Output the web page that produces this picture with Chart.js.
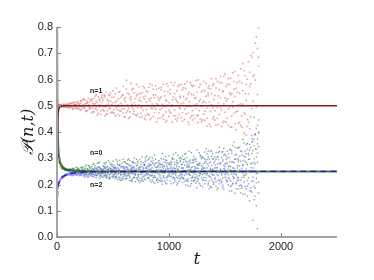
<!DOCTYPE html>
<html><head><meta charset="utf-8">
<script src="https://cdn.jsdelivr.net/npm/chart.js@4/dist/chart.umd.min.js"></script>
<style>html,body{margin:0;padding:0;background:#fff}#wrap{width:374px;height:280px}</style>
</head><body><div id="wrap"><canvas id="c" width="374" height="280"></canvas></div>
<script>
// sample times of the simulated points
const tSamples = [
10,20,30,40,50,60,70,80,90,100,110,120,130,140,150,160,170,180,190,200,
210,220,230,240,250,260,270,280,290,300,310,320,330,340,350,360,370,380,390,400,
410,420,430,440,450,460,470,480,490,500,510,520,530,540,550,560,570,580,590,600,
610,620,630,640,650,660,670,680,690,700,710,720,730,740,750,760,770,780,790,800,
810,820,830,840,850,860,870,880,890,900,910,920,930,940,950,960,970,980,990,1000,
1010,1020,1030,1040,1050,1060,1070,1080,1090,1100,1110,1120,1130,1140,1150,1160,1170,1180,1190,1200,
1210,1220,1230,1240,1250,1260,1270,1280,1290,1300,1310,1320,1330,1340,1350,1360,1370,1380,1390,1400,
1410,1420,1430,1440,1450,1460,1470,1480,1490,1500,1510,1520,1530,1540,1550,1560,1570,1580,1590,1600,
1610,1620,1630,1640,1650,1660,1670,1680,1690,1700,1710,1720,1730,1740,1750,1760,1770,1780,1790,1800];

const n1A = [
.502,.498,.505,.497,.501,.494,.503,.499,.507,.496,.508,.493,.501,.512,.489,.504,.497,.515,.492,.506,
.518,.486,.503,.495,.521,.509,.482,.498,.514,.491,.527,.478,.505,.536,.493,.512,.471,.519,.502,.531,
.485,.542,.496,.468,.524,.507,.489,.548,.476,.513,.533,.462,.518,.497,.551,.481,.509,.539,.472,.525,
.458,.597,.503,.544,.476,.521,.561,.487,.512,.466,.538,.493,.572,.455,.517,.549,.483,.526,.463,.556,
.501,.571,.447,.529,.489,.563,.474,.541,.508,.452,.567,.486,.534,.459,.582,.497,.521,.444,.553,.512,
.476,.589,.503,.462,.547,.525,.441,.574,.493,.536,.455,.561,.512,.583,.468,.529,.437,.552,.497,.578,
.482,.541,.452,.596,.507,.463,.571,.524,.439,.558,.517,.445,.586,.492,.548,.431,.565,.504,.577,.458,
.539,.426,.593,.511,.467,.612,.484,.556,.441,.529,.573,.452,.604,.493,.418,.547,.626,.471,.535,.409,
.588,.503,.437,.641,.462,.557,.395,.614,.521,.448,.667,.412,.583,.374,.702,.456,.598,.335,.718,.797];
const n1B = [
.497,.503,.496,.502,.499,.506,.495,.501,.493,.504,.491,.509,.496,.487,.511,.495,.506,.489,.513,.498,
.484,.517,.499,.526,.492,.478,.511,.503,.487,.522,.473,.509,.528,.488,.517,.465,.534,.496,.481,.512,
.521,.479,.537,.502,.469,.543,.491,.516,.532,.474,.486,.545,.493,.467,.526,.553,.479,.501,.542,.488,
.531,.474,.548,.491,.457,.535,.506,.566,.478,.527,.462,.544,.503,.531,.471,.498,.574,.452,.537,.486,
.553,.466,.519,.492,.578,.459,.531,.487,.562,.505,.473,.528,.561,.491,.448,.537,.476,.584,.502,.459,
.546,.471,.523,.578,.484,.449,.557,.512,.466,.531,.508,.442,.569,.487,.523,.591,.472,.515,.453,.544,
.573,.464,.528,.489,.552,.436,.517,.582,.498,.446,.468,.557,.512,.423,.539,.575,.478,.603,.451,.524,
.481,.568,.452,.537,.589,.493,.421,.553,.612,.475,.438,.526,.487,.581,.542,.461,.515,.592,.432,.567,
.479,.615,.548,.426,.587,.506,.634,.468,.581,.421,.546,.628,.459,.685,.517,.617,.389,.762,.543,.651];
const n1C = [
.500,.504,.497,.503,.495,.501,.498,.505,.500,.494,.503,.497,.510,.494,.505,.514,.490,.501,.508,.487,
.509,.495,.524,.489,.506,.481,.516,.528,.493,.501,.519,.492,.476,.508,.541,.483,.502,.525,.467,.538,
.497,.531,.461,.552,.482,.518,.539,.473,.505,.557,.471,.511,.568,.484,.503,.462,.532,.489,.574,.458,
.516,.563,.481,.452,.528,.586,.495,.469,.549,.503,.581,.468,.521,.547,.492,.459,.533,.568,.447,.514,
.468,.526,.583,.453,.506,.541,.495,.576,.439,.532,.521,.453,.571,.505,.466,.554,.438,.519,.574,.483,
.562,.497,.437,.534,.589,.461,.518,.453,.579,.489,.581,.474,.535,.448,.566,.497,.543,.429,.588,.461,
.446,.577,.503,.531,.463,.598,.482,.449,.553,.512,.594,.479,.536,.452,.568,.514,.421,.546,.492,.583,
.446,.603,.493,.429,.561,.531,.587,.436,.507,.621,.517,.581,.426,.549,.605,.418,.494,.563,.631,.476,
.552,.432,.593,.507,.418,.661,.473,.546,.389,.602,.436,.573,.692,.489,.612,.348,.739,.495,.426,.685];

const n0A = [
.307,.284,.274,.265,.263,.258,.258,.254,.255,.252,.256,.249,.258,.252,.261,.247,.255,.263,.246,.257,
.264,.243,.259,.251,.268,.245,.256,.272,.241,.262,.255,.276,.238,.263,.249,.281,.243,.267,.235,.258,
.271,.232,.262,.284,.246,.257,.228,.275,.253,.289,.239,.266,.294,.251,.226,.273,.245,.282,.231,.262,
.285,.223,.258,.297,.242,.271,.218,.263,.301,.236,.254,.289,.214,.268,.246,.305,.231,.276,.219,.261,
.293,.238,.271,.209,.283,.252,.312,.227,.265,.244,.216,.278,.255,.318,.233,.269,.206,.291,.247,.281,
.262,.203,.296,.241,.275,.321,.228,.257,.211,.287,.248,.309,.221,.273,.198,.286,.256,.327,.235,.264,
.293,.213,.268,.239,.331,.224,.281,.196,.259,.305,.227,.284,.336,.245,.205,.297,.262,.189,.318,.251,
.274,.193,.305,.233,.342,.258,.211,.289,.182,.315,.241,.327,.198,.286,.255,.176,.349,.223,.296,.207,
.338,.217,.271,.168,.312,.244,.358,.192,.283,.156,.295,.138,.341,.213,.064,.372,.187,.305,.031,.398];
const n0B = [
.301,.288,.270,.268,.260,.261,.255,.257,.252,.255,.251,.259,.246,.262,.253,.243,.266,.250,.258,.244,
.248,.267,.253,.239,.261,.274,.247,.236,.265,.252,.242,.261,.279,.247,.233,.266,.254,.286,.241,.229,
.258,.281,.244,.226,.269,.291,.237,.252,.278,.231,.274,.229,.255,.288,.242,.219,.267,.249,.296,.238,
.247,.279,.232,.256,.291,.215,.264,.283,.228,.251,.296,.237,.263,.224,.287,.251,.212,.272,.302,.243,
.226,.268,.304,.248,.217,.279,.233,.296,.255,.208,.274,.236,.299,.213,.262,.245,.307,.228,.283,.251,
.231,.284,.253,.314,.219,.247,.292,.205,.268,.303,.276,.237,.295,.252,.317,.214,.268,.241,.293,.203,
.249,.306,.228,.289,.211,.272,.321,.243,.298,.218,.301,.243,.214,.279,.328,.231,.192,.308,.257,.283,
.221,.297,.264,.187,.326,.248,.303,.226,.338,.268,.309,.213,.268,.334,.192,.287,.231,.362,.254,.183,
.263,.341,.195,.289,.227,.371,.248,.164,.317,.276,.226,.353,.279,.171,.329,.248,.391,.119,.285,.344];
const n0C = [
.312,.281,.276,.263,.258,.262,.253,.256,.257,.251,.258,.252,.244,.255,.259,.250,.247,.257,.262,.251,
.241,.258,.266,.247,.253,.237,.261,.249,.270,.244,.268,.240,.253,.271,.236,.259,.282,.245,.262,.251,
.243,.267,.278,.235,.257,.244,.283,.262,.229,.256,.261,.245,.231,.278,.254,.292,.238,.224,.269,.287,
.232,.268,.293,.241,.226,.259,.287,.244,.256,.211,.271,.219,.256,.294,.238,.226,.283,.249,.263,.308,
.252,.297,.233,.274,.301,.226,.248,.281,.214,.267,.291,.248,.222,.267,.296,.211,.258,.274,.233,.309,
.245,.276,.302,.227,.261,.236,.285,.311,.249,.224,.298,.226,.263,.316,.244,.273,.212,.289,.257,.321,
.227,.284,.258,.206,.276,.249,.233,.311,.271,.238,.262,.324,.237,.295,.271,.213,.256,.328,.236,.201,
.306,.247,.278,.321,.214,.283,.242,.325,.261,.228,.283,.246,.317,.221,.268,.329,.204,.262,.311,.238,
.214,.293,.249,.328,.186,.271,.228,.306,.241,.356,.312,.251,.187,.318,.263,.142,.336,.224,.373,.209];

const n2A = [
.188,.207,.218,.224,.229,.231,.234,.236,.238,.239,.241,.236,.245,.239,.248,.242,.237,.246,.240,.249,
.236,.251,.243,.232,.254,.240,.247,.229,.256,.243,.249,.231,.258,.243,.226,.253,.239,.262,.234,.247,
.228,.259,.241,.265,.232,.251,.221,.256,.244,.268,.253,.224,.261,.238,.272,.229,.247,.217,.263,.242,
.219,.266,.243,.275,.231,.254,.212,.269,.238,.281,.261,.226,.249,.208,.277,.241,.264,.221,.286,.235,
.242,.279,.216,.258,.233,.291,.205,.267,.247,.223,.283,.229,.255,.201,.272,.246,.294,.218,.261,.237,
.214,.268,.241,.297,.226,.259,.198,.281,.247,.219,.263,.208,.286,.235,.252,.302,.221,.271,.193,.249,
.231,.292,.217,.263,.188,.276,.243,.309,.226,.257,.279,.203,.251,.316,.234,.185,.287,.241,.211,.298,
.225,.264,.181,.306,.247,.219,.323,.196,.272,.238,.296,.212,.258,.174,.331,.241,.203,.283,.167,.315,
.227,.289,.342,.198,.261,.163,.308,.236,.352,.194,.318,.176,.265,.387,.211,.298,.155,.413,.243,.446];
const n2B = [
.192,.211,.215,.227,.226,.233,.232,.238,.236,.241,.237,.244,.240,.233,.247,.238,.251,.235,.244,.239,
.245,.234,.252,.241,.229,.249,.237,.257,.242,.233,.238,.255,.229,.249,.261,.236,.244,.224,.257,.241,
.254,.236,.266,.229,.247,.263,.225,.249,.271,.238,.233,.262,.245,.219,.258,.276,.236,.251,.223,.267,
.257,.236,.278,.249,.215,.262,.241,.286,.227,.254,.226,.273,.239,.258,.214,.268,.247,.232,.291,.251,
.271,.224,.256,.289,.238,.211,.273,.245,.218,.284,.239,.266,.212,.277,.248,.225,.283,.203,.259,.244,
.276,.231,.259,.207,.285,.242,.268,.226,.301,.236,.229,.277,.253,.211,.289,.238,.196,.267,.282,.224,
.268,.214,.247,.298,.231,.261,.204,.281,.249,.192,.244,.296,.226,.263,.198,.281,.327,.219,.257,.236,
.289,.211,.253,.294,.203,.276,.236,.189,.311,.257,.218,.279,.237,.303,.252,.196,.286,.226,.342,.239,
.298,.184,.256,.217,.326,.275,.209,.289,.183,.333,.251,.297,.176,.362,.228,.284,.392,.207,.319,.168];
const n2C = [
.185,.209,.220,.222,.231,.229,.236,.234,.240,.237,.244,.240,.235,.247,.236,.243,.249,.238,.246,.234,
.251,.238,.246,.255,.235,.244,.230,.252,.239,.248,.232,.246,.253,.236,.258,.242,.267,.231,.249,.256,
.245,.270,.233,.255,.239,.226,.262,.241,.258,.227,.266,.241,.228,.264,.246,.257,.215,.269,.239,.252,
.243,.224,.263,.235,.271,.247,.256,.225,.265,.241,.249,.282,.232,.265,.247,.218,.259,.276,.237,.266,
.226,.258,.275,.234,.264,.248,.229,.282,.251,.271,.256,.213,.274,.243,.229,.287,.252,.268,.229,.276,
.252,.287,.224,.264,.248,.211,.276,.259,.233,.291,.241,.262,.225,.297,.218,.266,.279,.238,.255,.213,
.283,.241,.296,.224,.262,.218,.274,.239,.304,.266,.216,.263,.289,.241,.305,.253,.228,.271,.296,.207,
.263,.322,.238,.216,.281,.256,.208,.294,.246,.278,.251,.302,.226,.271,.213,.319,.264,.241,.296,.203,
.271,.226,.308,.249,.193,.292,.234,.326,.258,.215,.203,.331,.247,.281,.364,.192,.277,.241,.355,.398];

// mean-field curves
const curveT  = [0, 2, 5, 10, 15, 20, 30, 40, 60, 80, 100, 150, 200, 300, 2500];
const n1Curve = [0, .30, .42, .47, .485, .492, .497, .499, .5, .5, .5, .5, .5, .5, .5];
const n0Curve = [1.0, .62, .45, .36, .32, .30, .283, .274, .264, .259, .256, .253, .251, .25, .25];
const n2Curve = [0, .10, .16, .19, .202, .21, .219, .225, .232, .237, .240, .244, .246, .249, .25];

const xTicks = [0, 1000, 2000];
const yTicks = [0, .1, .2, .3, .4, .5, .6, .7, .8];
const curveLabels = ['n=1', 'n=0', 'n=2'];
const curveLabelAt = [[350, .556], [350, .32], [350, .198]];

const pts = (xs, ys) => xs.map((x, i) => ({x: x, y: ys[i]}));
const FONT = "'Liberation Sans', Arial, sans-serif";

function scatterDs(ys, color, r, ord) {
  return {data: pts(tSamples, ys), showLine: false, pointRadius: r, pointBorderWidth: 0,
          pointBackgroundColor: color, borderColor: color, order: ord};
}
function lineDs(ys, color, width, dash, ord) {
  return {data: pts(curveT, ys), showLine: true, pointRadius: 0, borderColor: color,
          borderWidth: width, borderDash: dash, cubicInterpolationMode: 'monotone', order: ord};
}

const deco = {
  id: 'deco',
  afterDatasetsDraw(chart) {
    const ctx = chart.ctx, xs = chart.scales.x, ys = chart.scales.y, a = chart.chartArea;
    ctx.save();
    // spines
    ctx.strokeStyle = '#a3a3a3'; ctx.lineWidth = 2;
    ctx.beginPath(); ctx.moveTo(a.left, a.top); ctx.lineTo(a.left, a.bottom); ctx.lineTo(a.right, a.bottom); ctx.stroke();
    // inner ticks
    ctx.lineWidth = 1; ctx.strokeStyle = '#888';
    ctx.beginPath();
    yTicks.forEach(v => { const p = Math.round(ys.getPixelForValue(v)) + 0.5; ctx.moveTo(a.left, p); ctx.lineTo(a.left + 4, p); });
    xTicks.forEach(v => { const p = Math.round(xs.getPixelForValue(v)) + 0.5; ctx.moveTo(p, a.bottom); ctx.lineTo(p, a.bottom - 4); });
    ctx.stroke();
    // curve labels
    ctx.fillStyle = '#222'; ctx.font = 'bold 7px ' + FONT; ctx.textAlign = 'center'; ctx.textBaseline = 'middle';
    curveLabels.forEach((s, i) => ctx.fillText(s, xs.getPixelForValue(curveLabelAt[i][0]), ys.getPixelForValue(curveLabelAt[i][1])));
    // axis titles
    ctx.font = "italic 17px 'DejaVu Serif', serif";
    ctx.fillText('t', (a.left + a.right) / 2, a.bottom + 23);
    ctx.translate(29, (a.top + a.bottom) / 2);
    ctx.rotate(-Math.PI / 2);
    ctx.font = "italic 16px 'DejaVu Serif', serif";
    ctx.fillText('𝒫(n,t)', 0, 0);
    ctx.restore();
  }
};

new Chart(document.getElementById('c'), {
  type: 'scatter',
  data: {datasets: [
    lineDs(n1Curve, '#7b1f1f', 1.6, [], 0),
    lineDs(n2Curve, '#1c1c9a', 1.4, [6, 4], 0),
    lineDs(n0Curve, 'rgba(30,70,30,0.75)', 2, [], 1),
    scatterDs(n0A, 'rgba(40,120,40,0.7)', 0.75, 3),
    scatterDs(n2A, 'rgba(105,105,250,0.5)', 1, 3),
    scatterDs(n0B, 'rgba(40,120,40,0.7)', 0.75, 3),
    scatterDs(n2B, 'rgba(105,105,250,0.5)', 1, 3),
    scatterDs(n2C, 'rgba(105,105,250,0.5)', 1, 3),
    scatterDs(n0C, 'rgba(40,120,40,0.7)', 0.75, 3),
    scatterDs(n1A, 'rgba(205,90,90,0.5)', 0.95, 4),
    scatterDs(n1B, 'rgba(205,90,90,0.5)', 0.95, 4),
    scatterDs(n1C, 'rgba(205,90,90,0.5)', 0.95, 4)
  ]},
  options: {
    responsive: false, animation: false, events: [],
    layout: {padding: {top: 27, right: 37, left: 0, bottom: 0}},
    plugins: {legend: {display: false}, tooltip: {enabled: false}},
    scales: {
      x: {type: 'linear', min: 0, max: 2500,
          afterBuildTicks: s => { s.ticks = xTicks.map(v => ({value: v})); },
          afterFit: s => { s.height = 43; },
          grid: {display: false, drawTicks: false}, border: {display: false},
          ticks: {padding: 3, color: '#222', font: {family: FONT, size: 11}, maxRotation: 0, callback: v => String(v)}},
      y: {type: 'linear', min: 0, max: 0.8,
          afterBuildTicks: s => { s.ticks = yTicks.map(v => ({value: v})); },
          afterFit: s => { s.width = 57; },
          grid: {display: false, drawTicks: false}, border: {display: false},
          ticks: {padding: 4, color: '#222', font: {family: FONT, size: 11}, callback: v => v.toFixed(1)}}
    }
  },
  plugins: [deco]
});
</script></body></html>
